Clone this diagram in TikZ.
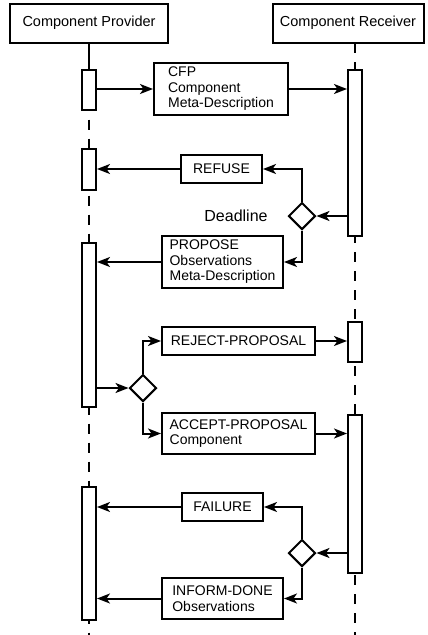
\documentclass[tikz,border=0pt]{standalone}
\usepackage{fontspec}
\setmainfont{Liberation Sans}
\usetikzlibrary{shapes.geometric,arrows.meta}

\begin{document}
\begin{tikzpicture}[
    x=1pt, y=-1pt,
    actor/.style={rectangle, draw, line width=2pt, minimum width=158pt, minimum height=39pt, font=\fontsize{14.5}{16}\selectfont},
    act/.style={rectangle, draw, line width=2pt, fill=white, minimum width=14pt, inner sep=0pt},
    msg/.style={rectangle, draw, line width=2pt, align=left, inner sep=0pt, font=\fontsize{14}{15.5}\selectfont},
    choice/.style={diamond, draw, line width=2pt, fill=white, minimum size=27pt, inner sep=0pt},
    lifeline/.style={line width=2pt, dash pattern=on 10pt off 9pt},
    arrow/.style={-{Stealth[length=13pt,width=10pt,inset=3.5pt]}, line width=2pt}
]
    \useasboundingbox (0,0) rectangle (428,635);

    % roles
    \node[actor] (prov) at (89,23) {Component Provider};
    \node[actor, minimum width=151pt] (recv) at (348,23) {Component Receiver};
    \coordinate (rtop) at (355,43);
    \coordinate (pbot) at (89,635);
    \coordinate (rbot) at (355,635);
    \draw[lifeline] (prov.south) -- (pbot);
    \draw[lifeline] (rtop) -- (rbot);

    % activations
    \node[act, minimum height=40pt] (pa1) at (89,90) {};
    \node[act, minimum height=41pt] (pa2) at (89,169.5) {};
    \node[act, minimum height=164pt] (pa3) at (89,325) {};
    \node[act, minimum height=133pt] (pa4) at (89,553.5) {};
    \node[act, minimum height=166pt] (ra1) at (355,153) {};
    \node[act, minimum height=40pt] (ra2) at (355,342) {};
    \node[act, minimum height=158pt] (ra3) at (355,494) {};
    \draw[line width=2pt] (prov.south) -- (pa1.north);

    % messages
    \node[msg, minimum width=134pt, minimum height=52pt] (cfp) at (221,89) {CFP\\Component\\Meta-Description};
    \node[msg, minimum width=81pt, minimum height=28pt] (refuse) at (221.5,169) {REFUSE};
    \node[msg, minimum width=121pt, minimum height=52pt] (propose) at (222.5,262) {PROPOSE\\Observations\\Meta-Description};
    \node[msg, minimum width=153pt, minimum height=28pt] (reject) at (238.5,341) {REJECT-PROPOSAL};
    \node[msg, minimum width=153pt, minimum height=41pt] (accept) at (238.5,433.5) {ACCEPT-PROPOSAL\\Component};
    \node[msg, minimum width=81pt, minimum height=28pt] (failure) at (222.5,507) {FAILURE};
    \node[msg, minimum width=121pt, minimum height=41pt] (inform) at (222.5,598.5) {INFORM-DONE\\Observations};

    % decisions
    \node[choice] (d1) at (302,216) {};
    \node[choice] (d2) at (143,388) {};
    \node[choice] (d3) at (302,553) {};
    \node[font=\fontsize{16}{18}\selectfont] (deadline) at (236,216) {Deadline};

    % flows
    \draw[arrow] (cfp.west -| pa1.east) -- (cfp.west);
    \draw[arrow] (cfp.east) -- (cfp.east -| ra1.west);
    \draw[arrow] (d1.east -| ra1.west) -- (d1.east);
    \draw[arrow] (d1.north) |- (refuse.east);
    \draw[arrow] (d1.south) |- (propose.east);
    \draw[arrow] (refuse.west) -- (refuse.west -| pa2.east);
    \draw[arrow] (propose.west) -- (propose.west -| pa3.east);
    \draw[arrow] (d2.west -| pa3.east) -- (d2.west);
    \draw[arrow] (d2.north) |- (reject.west);
    \draw[arrow] (d2.south) |- (accept.west);
    \draw[arrow] (reject.east) -- (reject.east -| ra2.west);
    \draw[arrow] (accept.east) -- (accept.east -| ra3.west);
    \draw[arrow] (d3.east -| ra3.west) -- (d3.east);
    \draw[arrow] (d3.north) |- (failure.east);
    \draw[arrow] (d3.south) |- (inform.east);
    \draw[arrow] (failure.west) -- (failure.west -| pa4.east);
    \draw[arrow] (inform.west) -- (inform.west -| pa4.east);
\end{tikzpicture}
\end{document}
